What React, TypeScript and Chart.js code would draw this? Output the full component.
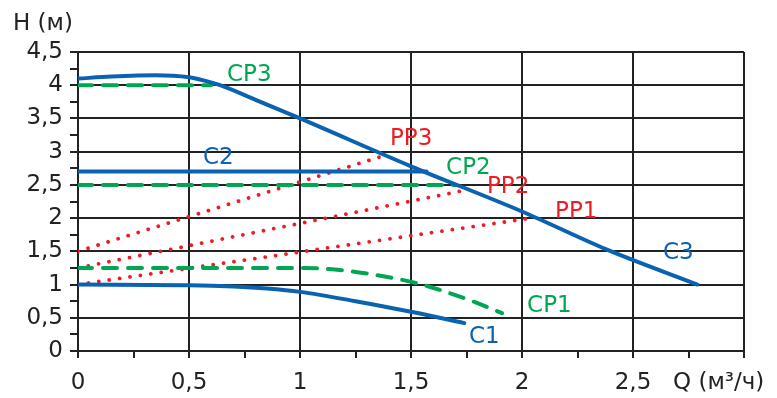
import React, { useEffect, useRef } from 'react';
import { Chart, registerables } from 'chart.js';

Chart.register(...registerables);

// ---- tick labels ----
const xTickValues = [0, 0.5, 1, 1.5, 2, 2.5];
const xTickLabels = ['0', '0,5', '1', '1,5', '2', '2,5'];
const yTickValues = [0, 0.5, 1, 1.5, 2, 2.5, 3, 3.5, 4, 4.5];
const yTickLabels = ['0', '0,5', '1', '1,5', '2', '2,5', '3', '3,5', '4', '4,5'];

// ---- pump curves (Q m3/h, H m) ----
const c1Q = [0, 0.5, 0.7, 0.85, 1.0, 1.25, 1.5, 1.74];
const c1H = [1.0, 0.99, 0.97, 0.94, 0.89, 0.75, 0.59, 0.42];

const c2Q = [0, 1.57];
const c2H = [2.7, 2.7];

const c3Q = [0, 0.15, 0.35, 0.5, 0.57, 0.64, 0.8, 1.0, 1.5, 2.0, 2.38, 2.79];
const c3H = [4.1, 4.13, 4.15, 4.12, 4.07, 4.0, 3.78, 3.5, 2.78, 2.1, 1.53, 1.0];

// ---- constant pressure curves ----
const cp1Q = [0, 1.0, 1.1, 1.25, 1.4, 1.55, 1.7, 1.8, 1.91];
const cp1H = [1.25, 1.25, 1.24, 1.19, 1.11, 1.0, 0.84, 0.72, 0.57];

const cp2Q = [0, 1.7];
const cp2H = [2.5, 2.5];

const cp3Q = [0, 0.6];
const cp3H = [4.0, 4.0];

// ---- proportional pressure curves ----
const pp1Q = [0, 2.04];
const pp1H = [1.0, 2.0];

const pp2Q = [0, 1.76];
const pp2H = [1.25, 2.43];

const pp3Q = [0, 1.36];
const pp3H = [1.5, 2.92];

// ---- curve names ----
const curveNames = ['CP3', 'C2', 'PP3', 'CP2', 'PP2', 'PP1', 'C3', 'CP1', 'C1'];
const curveNameQ = [0.671, 0.563, 1.405, 1.658, 1.842, 2.149, 2.635, 2.023, 1.761];
const curveNameH = [4.154, 2.905, 3.19, 2.754, 2.468, 2.092, 1.475, 0.677, 0.211];

const BLUE = '#0a63b0';
const GREEN = '#00a651';
const RED = '#ed1c24';
const INK = '#222222';
const FONT = "'DejaVu Sans', Verdana, sans-serif";

const curveNameColors = [GREEN, BLUE, RED, GREEN, RED, RED, BLUE, GREEN, BLUE];

const pts = (q: number[], h: number[]) => q.map((v, i) => ({ x: v, y: h[i] }));

const isMajor = (v: number) => Math.abs(v * 2 - Math.round(v * 2)) < 1e-6;

const textPlugin = {
  id: 'textPlugin',
  afterDatasetsDraw(chart: any) {
    const ctx = chart.ctx;
    const xs = chart.scales.x;
    const ys = chart.scales.y;
    ctx.save();
    ctx.font = `23px ${FONT}`;
    ctx.textAlign = 'left';
    ctx.textBaseline = 'middle';
    curveNames.forEach((name, i) => {
      ctx.fillStyle = curveNameColors[i];
      ctx.fillText(name, xs.getPixelForValue(curveNameQ[i]), ys.getPixelForValue(curveNameH[i]));
    });
    ctx.fillStyle = INK;
    ctx.fillText('H (м)', chart.chartArea.left - 65, chart.chartArea.top - 28);
    ctx.fillText('Q (м³/ч)', xs.getPixelForValue(2.5) + 40, chart.chartArea.bottom + 32);
    ctx.restore();
  },
};

export default function App() {
  const ref = useRef<HTMLCanvasElement>(null);

  useEffect(() => {
    if (!ref.current) return;
    const blue = { borderColor: BLUE, borderWidth: 4, pointRadius: 0, fill: false, order: 0, cubicInterpolationMode: 'monotone' as const, borderCapStyle: 'round' as const };
    const green = { borderColor: GREEN, borderWidth: 4, pointRadius: 0, fill: false, order: 1, borderDash: [14, 11], borderCapStyle: 'round' as const, cubicInterpolationMode: 'monotone' as const };
    const red = { borderColor: RED, borderWidth: 3.8, pointRadius: 0, fill: false, order: 2, borderDash: [0.01, 10.5], borderCapStyle: 'round' as const };

    const chart = new Chart(ref.current, {
      type: 'line',
      data: {
        datasets: [
          { label: 'C1', data: pts(c1Q, c1H), ...blue },
          { label: 'C2', data: pts(c2Q, c2H), ...blue },
          { label: 'C3', data: pts(c3Q, c3H), ...blue },
          { label: 'CP1', data: pts(cp1Q, cp1H), ...green },
          { label: 'CP2', data: pts(cp2Q, cp2H), ...green },
          { label: 'CP3', data: pts(cp3Q, cp3H), ...green },
          { label: 'PP1', data: pts(pp1Q, pp1H), ...red },
          { label: 'PP2', data: pts(pp2Q, pp2H), ...red },
          { label: 'PP3', data: pts(pp3Q, pp3H), ...red },
        ],
      },
      options: {
        animation: false,
        responsive: false,
        devicePixelRatio: 1,
        layout: { padding: { top: 52, right: 33, left: 0, bottom: 0 } },
        plugins: { legend: { display: false }, tooltip: { enabled: false } },
        scales: {
          x: {
            type: 'linear',
            min: 0,
            max: 3,
            afterFit: (s: any) => { s.height = 47; },
            border: { color: INK, width: 2 },
            grid: {
              color: (c: any) => (isMajor(c.tick.value) ? INK : 'rgba(0,0,0,0)'),
              lineWidth: 2,
              tickColor: INK,
              tickWidth: 2,
              tickLength: 7,
            },
            ticks: {
              stepSize: 0.25,
              autoSkip: false,
              maxRotation: 0,
              padding: 11,
              color: INK,
              font: { family: FONT, size: 23 },
              callback: (v: any) => {
                const i = xTickValues.findIndex((t) => Math.abs(t - v) < 1e-6);
                return i >= 0 ? xTickLabels[i] : '';
              },
            },
          },
          y: {
            type: 'linear',
            min: 0,
            max: 4.5,
            afterFit: (s: any) => { s.width = 78; },
            border: { color: INK, width: 2 },
            grid: {
              color: (c: any) => (isMajor(c.tick.value) ? INK : 'rgba(0,0,0,0)'),
              lineWidth: 2,
              tickColor: INK,
              tickWidth: 2,
              tickLength: 8,
            },
            ticks: {
              stepSize: 0.25,
              autoSkip: false,
              padding: 7,
              color: INK,
              font: { family: FONT, size: 23 },
              callback: (v: any) => {
                const i = yTickValues.findIndex((t) => Math.abs(t - v) < 1e-6);
                return i >= 0 ? yTickLabels[i] : '';
              },
            },
          },
        },
      },
      plugins: [textPlugin],
    });
    return () => chart.destroy();
  }, []);

  return (
    <div style={{ position: 'absolute', left: 0, top: 0, width: 777, height: 398, background: '#fff' }}>
      <canvas ref={ref} width={777} height={398} style={{ display: 'block' }} />
    </div>
  );
}
